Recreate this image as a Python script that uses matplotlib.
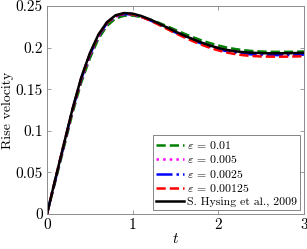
import matplotlib
matplotlib.use("Agg")
import matplotlib.pyplot as plt

plt.rcParams["font.family"] = "serif"
plt.rcParams["font.serif"] = ["cmr10", "DejaVu Serif"]
plt.rcParams["mathtext.fontset"] = "cm"
plt.rcParams["axes.formatter.use_mathtext"] = True

t = [0.0, 0.1, 0.2, 0.3, 0.4, 0.5, 0.6, 0.7, 0.8, 0.9, 1.0,
     1.1, 1.2, 1.3, 1.4, 1.5, 1.6, 1.7, 1.8, 1.9, 2.0,
     2.1, 2.2, 2.3, 2.4, 2.5, 2.6, 2.7, 2.8, 2.9, 3.0]

eps_001 = [0.0, 0.040, 0.081, 0.122, 0.158, 0.187, 0.2105, 0.2260, 0.2350, 0.2383, 0.2385,
           0.2368, 0.2338, 0.2300, 0.2258, 0.2212, 0.2168, 0.2126, 0.2088, 0.2054, 0.2025,
           0.2000, 0.1982, 0.1968, 0.1958, 0.1952, 0.1949, 0.1948, 0.1948, 0.1950, 0.1952]
eps_0005 = [0.0, 0.042, 0.083, 0.125, 0.161, 0.190, 0.2130, 0.2285, 0.2372, 0.2400, 0.2397,
            0.2372, 0.2335, 0.2290, 0.2242, 0.2193, 0.2146, 0.2102, 0.2061, 0.2024, 0.1993,
            0.1968, 0.1950, 0.1938, 0.1930, 0.1926, 0.1924, 0.1924, 0.1925, 0.1927, 0.1930]
eps_00025 = [0.0, 0.042, 0.084, 0.126, 0.162, 0.191, 0.2140, 0.2292, 0.2378, 0.2403, 0.2398,
             0.2370, 0.2330, 0.2282, 0.2232, 0.2182, 0.2134, 0.2090, 0.2049, 0.2012, 0.1981,
             0.1956, 0.1938, 0.1925, 0.1917, 0.1912, 0.1910, 0.1909, 0.1910, 0.1912, 0.1915]
eps_000125 = [0.0, 0.043, 0.085, 0.126, 0.163, 0.192, 0.2148, 0.2298, 0.2382, 0.2408, 0.2401,
              0.2370, 0.2327, 0.2277, 0.2225, 0.2173, 0.2124, 0.2078, 0.2036, 0.1998, 0.1966,
              0.1940, 0.1921, 0.1907, 0.1898, 0.1893, 0.1891, 0.1890, 0.1891, 0.1893, 0.1896]
hysing = [0.0, 0.043, 0.085, 0.127, 0.164, 0.193, 0.2155, 0.2305, 0.2388, 0.2415, 0.2408,
          0.2380, 0.2340, 0.2292, 0.2242, 0.2192, 0.2145, 0.2102, 0.2062, 0.2025, 0.1995,
          0.1972, 0.1955, 0.1944, 0.1937, 0.1933, 0.1931, 0.1931, 0.1932, 0.1934, 0.1937]

series = [
    (eps_001, r"$\varepsilon$ = 0.01", "#007f00", "--"),
    (eps_0005, r"$\varepsilon$ = 0.005", "#ff00ff", ":"),
    (eps_00025, r"$\varepsilon$ = 0.0025", "#0000ff", "-."),
    (eps_000125, r"$\varepsilon$ = 0.00125", "#ff0000", "--"),
    (hysing, "S. Hysing et al., 2009", "black", "-"),
]

xticks = [0, 1, 2, 3]
yticks = [0, 0.05, 0.1, 0.15, 0.2, 0.25]
ytick_labels = ["0", "0.05", "0.1", "0.15", "0.2", "0.25"]

fig = plt.figure(figsize=(3.07, 2.49), dpi=100)
ax = fig.add_axes([0.153, 0.141, 0.837, 0.835])

for values, label, color, style in series:
    ax.plot(t, values, style, color=color, lw=1.8, label=label)

ax.set_xlim(0, 3)
ax.set_ylim(0, 0.25)
ax.set_xticks(xticks)
ax.set_xticklabels([str(v) for v in xticks])
ax.set_yticks(yticks)
ax.set_yticklabels(ytick_labels)
ax.tick_params(direction="in", top=True, right=True, length=3, width=0.6,
               color="0.55", labelsize=11, pad=3)
for sp in ax.spines.values():
    sp.set_color("0.55")
    sp.set_linewidth(0.7)

ax.set_xlabel("$t$", fontsize=11, labelpad=0)
ax.set_ylabel("Rise velocity", fontsize=10, labelpad=1)

leg = ax.legend(loc="lower right", fontsize=8.5, frameon=True, fancybox=False,
                edgecolor="0.4", handlelength=2.4, handletextpad=0.2,
                borderpad=0.3, labelspacing=0.2, borderaxespad=0.3)
leg.get_frame().set_linewidth(0.7)

fig.savefig("out.png", dpi=100)
